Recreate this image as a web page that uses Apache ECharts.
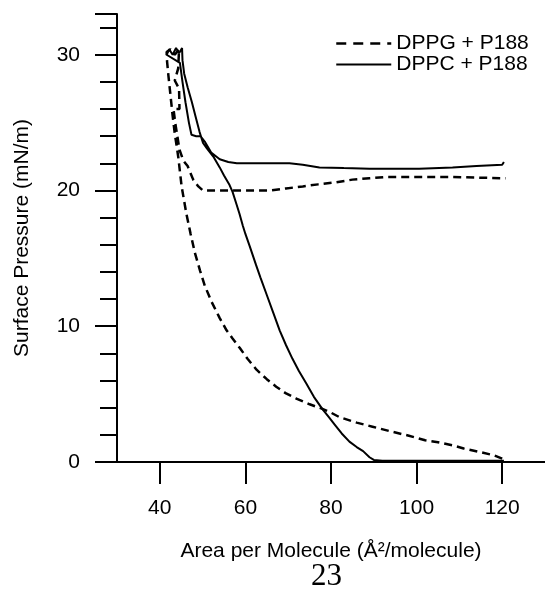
<!DOCTYPE html>
<html>
<head>
<meta charset="utf-8">
<script src="https://cdn.jsdelivr.net/npm/echarts@6/dist/echarts.min.js"></script>
<style>html,body{margin:0;padding:0;background:#fff;}#c{width:545px;height:596px;}</style>
</head>
<body>
<div id="c"></div>
<script>
// Tick labels
var xTicks = [40, 60, 80, 100, 120];
var yTicks = [0, 10, 20, 30];
var seriesNames = ['DPPG + P188', 'DPPC + P188'];

// DPPG + P188 isotherm (compression then expansion), [area, pressure]
var dppgArea = [120, 118, 114.6, 111, 108.4, 105, 102, 98, 94, 89.7, 86, 82, 79.6, 77.7, 75, 71.9, 69.5, 67.2, 65, 62.6, 60.5, 58.7, 57, 55.6, 54, 52.1, 50.5, 49.4, 48.2, 47.2, 46.2, 45.1, 44.3, 43.5, 43.0, 42.5, 42.0, 41.7, 41.6,
  42.5, 43.5, 44.5,
  44.3, 43.5, 44.5, 44.6, 43.2, 43.6, 44.6, 45.5, 46.5, 47.8, 49.0, 50.1, 54, 57, 62, 65.7, 69.5, 73.4, 77, 81.2, 85, 89, 93, 96.7, 102, 108.4, 114, 120.8];
var dppgPressure = [0.25, 0.5, 0.75, 1.0, 1.23, 1.45, 1.6, 1.95, 2.25, 2.6, 2.9, 3.3, 3.7, 3.95, 4.25, 4.67, 5.05, 5.55, 6.1, 6.8, 7.6, 8.4, 9.1, 9.7, 10.6, 11.8, 13.0, 14.1, 15.4, 16.8, 18.3, 20.3, 22.5, 24.2, 25.5, 27.0, 28.5, 29.5, 30.2,
  30.4, 30.0, 30.4,
  29.0, 28.1, 27.5, 26.0, 26.0, 25.0, 23.0, 22.2, 21.8, 20.8, 20.3, 20.0, 20.0, 20.0, 20.0, 20.0, 20.15, 20.3, 20.45, 20.6, 20.8, 20.9, 21.0, 21.0, 21.0, 21.0, 20.95, 20.9];

// DPPC + P188 isotherm (compression then expansion), [area, pressure]
var dppcArea = [120.4, 110, 100, 92, 90, 89, 87.5, 86, 84.3, 82.5, 81, 79.5, 78, 76, 74.2, 72.5, 71, 69.5, 68, 66.5, 65, 63.5, 62.5, 61, 60, 59.4, 58.6, 57.9, 57, 56.3, 55, 54, 52.5, 51, 50.1, 49.3, 48.4, 47.5, 46.5, 45.7, 45.3, 45.2,
  44.5, 43.8, 43.0, 42.2, 41.6,
  44.7, 45.3, 46.0, 46.8, 47.4, 48.5, 49.5, 50.5, 52, 54, 56, 58, 62, 66, 70.3, 73.4, 77.3, 83, 89, 95, 100.6, 108.4, 114, 120, 120.4];
var dppcPressure = [0.1, 0.1, 0.1, 0.1, 0.15, 0.35, 0.8, 1.1, 1.5, 2.1, 2.7, 3.3, 3.9, 4.8, 5.8, 6.7, 7.6, 8.6, 9.7, 11.0, 12.3, 13.6, 14.5, 15.9, 16.8, 17.4, 18.3, 19.0, 19.9, 20.4, 21.1, 21.7, 22.5, 23.1, 23.5, 24.3, 25.4, 26.5, 27.6, 28.6, 29.6, 30.5,
  30.1, 30.5, 30.0, 30.4, 30.0,
  29.4, 28.0, 26.5, 25.0, 24.1, 24.0, 24.0, 23.6, 22.8, 22.3, 22.1, 22.0, 22.0, 22.0, 22.0, 21.9, 21.7, 21.65, 21.6, 21.6, 21.6, 21.7, 21.8, 21.9, 22.1];

function pairs(xs, ys) { return xs.map(function (x, i) { return [x, ys[i]]; }); }

var FONT = 'Liberation Sans';
var chart = echarts.init(document.getElementById('c'), null, { renderer: 'canvas' });
chart.setOption({
  animation: false,
  backgroundColor: '#ffffff',
  grid: { left: 117, top: 14, right: 0, bottom: 134, containLabel: false },
  legend: {
    orient: 'vertical',
    left: 330,
    top: 28,
    itemWidth: 55,
    itemHeight: 14,
    itemGap: 0,
    itemStyle: { opacity: 0 },
    data: [
      { name: seriesNames[0], lineStyle: { type: [10, 7], width: 2.5 } },
      { name: seriesNames[1] }
    ],
    textStyle: { fontFamily: FONT, fontSize: 21, color: '#000' }
  },
  xAxis: {
    type: 'value',
    min: 30,
    max: 130,
    name: 'Area per Molecule (Å²/molecule)',
    nameLocation: 'middle',
    nameGap: 79,
    nameTextStyle: { fontFamily: FONT, fontSize: 21, color: '#000' },
    axisLine: { lineStyle: { color: '#000', width: 2 } },
    axisTick: { show: true, customValues: xTicks, length: 22, inside: false, lineStyle: { color: '#000', width: 2 } },
    axisLabel: { customValues: xTicks, margin: 36, fontFamily: FONT, fontSize: 21, color: '#000' },
    splitLine: { show: false }
  },
  yAxis: {
    type: 'value',
    min: 0,
    max: 33,
    interval: 10,
    name: 'Surface Pressure (mN/m)',
    nameLocation: 'middle',
    nameGap: 84,
    nameTextStyle: { fontFamily: FONT, fontSize: 21, color: '#000' },
    axisLine: { show: true, lineStyle: { color: '#000', width: 2 } },
    axisTick: { show: true, length: 22, lineStyle: { color: '#000', width: 2 } },
    minorTick: { show: true, splitNumber: 5, length: 17, lineStyle: { color: '#000', width: 2 } },
    axisLabel: { customValues: yTicks, margin: 37, fontFamily: FONT, fontSize: 21, color: '#000' },
    splitLine: { show: false },
    minorSplitLine: { show: false }
  },
  series: [
    {
      name: seriesNames[0],
      type: 'line',
      data: pairs(dppgArea, dppgPressure),
      symbol: 'none',
      smooth: false,
      lineStyle: { color: '#000', width: 2.5, type: [8, 5] },
      itemStyle: { color: '#000' }
    },
    {
      name: seriesNames[1],
      type: 'line',
      data: pairs(dppcArea, dppcPressure),
      symbol: 'none',
      smooth: false,
      lineStyle: { color: '#000', width: 2 },
      itemStyle: { color: '#000' }
    }
  ],
  graphic: [
    {
      type: 'text',
      left: 311,
      top: 561,
      style: { text: '23', font: '31px "Liberation Serif"', fill: '#000' }
    }
  ]
});
</script>
</body>
</html>
